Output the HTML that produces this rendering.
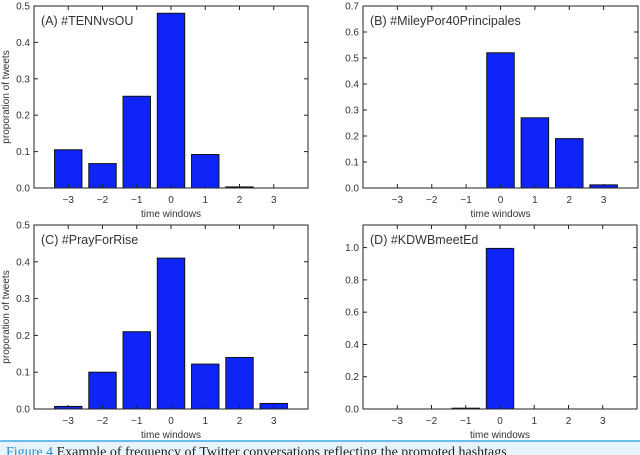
<!DOCTYPE html>
<html><head><meta charset="utf-8"><style>
body{margin:0;background:#fff;width:640px;height:455px;overflow:hidden;font-family:"Liberation Sans",sans-serif}
svg{display:block}
</style></head><body>
<svg id="fig" width="640" height="455">
<rect x="0" y="441" width="640" height="14" fill="#e8f4fb"/>
<line x1="0" y1="441" x2="640" y2="441" stroke="#3aa8e8" stroke-width="1.5"/>
<text x="6" y="456" font-family="Liberation Serif" font-size="14" fill="#222"><tspan fill="#2a8ad0">Figure 4</tspan> Example of frequency of Twitter conversations reflecting the promoted hashtags</text>
</svg>
<script>
const cats=[-3,-2,-1,0,1,2,3];
const valsA=[0.105,0.067,0.252,0.48,0.092,0.003,0];
const valsB=[0,0,0,0.52,0.27,0.19,0.012];
const valsC=[0.007,0.1,0.21,0.41,0.122,0.14,0.015];
const valsD=[0,0,0.005,0.995,0,0,0];
const ticksA=[0,0.1,0.2,0.3,0.4,0.5];
const ticksB=[0,0.1,0.2,0.3,0.4,0.5,0.6,0.7];
const ticksC=[0,0.1,0.2,0.3,0.4,0.5];
const ticksD=[0,0.2,0.4,0.6,0.8,1.0];
const titles=["(A) #TENNvsOU","(B) #MileyPor40Principales","(C) #PrayForRise","(D) #KDWBmeetEd"];
const NS="http://www.w3.org/2000/svg";
const svg=document.getElementById('fig');
function mk(tag,attrs,parent){const e=document.createElementNS(NS,tag);for(const k in attrs)e.setAttribute(k,attrs[k]);(parent||svg).appendChild(e);return e;}
const panels=[
 {vals:valsA,ticks:ticksA,ymax:0.5,x0:34,x1:308,y0:6,y1:188,ylab:true,fix:1},
 {vals:valsB,ticks:ticksB,ymax:0.7,x0:363,x1:638,y0:6,y1:188,ylab:false,fix:1},
 {vals:valsC,ticks:ticksC,ymax:0.5,x0:34,x1:308,y0:225,y1:409,ylab:true,fix:1},
 {vals:valsD,ticks:ticksD,ymax:1.14,x0:363,x1:637,y0:225,y1:409,ylab:false,fix:1}
];
panels.forEach((p,i)=>{
 const g=mk('g',{});
 
 
 const xs=v=>p.x0+(v+4)/8*(p.x1-p.x0);
 const ys=v=>p.y1-v/p.ymax*(p.y1-p.y0);
 cats.forEach((c,j)=>{
  const v=p.vals[j]; if(v<=0) return;
  const r=mk('rect',{x:xs(c-0.4),y:ys(v),width:xs(c+0.4)-xs(c-0.4),height:p.y1-ys(v),fill:'#0f25f8',stroke:'#111','stroke-width':1},g);
  
  
 });
 const fr=mk('rect',{x:p.x0,y:p.y0,width:p.x1-p.x0,height:p.y1-p.y0,fill:'none',stroke:'#222','stroke-width':1},g);
 
 
 cats.forEach(c=>{
  const x=xs(c);
  mk('line',{x1:x,y1:p.y1,x2:x,y2:p.y1-4,stroke:'#222'},g);
  mk('line',{x1:x,y1:p.y0,x2:x,y2:p.y0+4,stroke:'#222'},g);
  const t=mk('text',{x:x,y:p.y1+15,'font-size':10,fill:'#333','text-anchor':'middle'},g);
  t.textContent=c<0?'\u2212'+(-c):String(c);
  
  
 });
 p.ticks.forEach(v=>{
  const y=ys(v);
  mk('line',{x1:p.x0,y1:y,x2:p.x0+4,y2:y,stroke:'#222'},g);
  mk('line',{x1:p.x1,y1:y,x2:p.x1-4,y2:y,stroke:'#222'},g);
  const t=mk('text',{x:p.x0-4,y:y+3.5,'font-size':10,fill:'#333','text-anchor':'end'},g);
  t.textContent=v.toFixed(p.fix);
  
  
 });
 const xl=mk('text',{x:(p.x0+p.x1)/2,y:p.y1+29,'font-size':10,fill:'#333','text-anchor':'middle'},g);
 xl.textContent='time windows';
 
 
 if(p.ylab){
  const cy=(p.y0+p.y1)/2;
  const yl=mk('text',{x:0,y:0,'font-size':10,fill:'#333','text-anchor':'middle',transform:'translate(9,'+cy+') rotate(-90)'},g);
  yl.textContent='proporation of tweets';
  
  
 }
 const tt=mk('text',{x:p.x0+7,y:p.y0+19,'font-size':12.5,fill:'#333'},g);
 tt.textContent=titles[i];
 
 
});
</script>
</body></html>
